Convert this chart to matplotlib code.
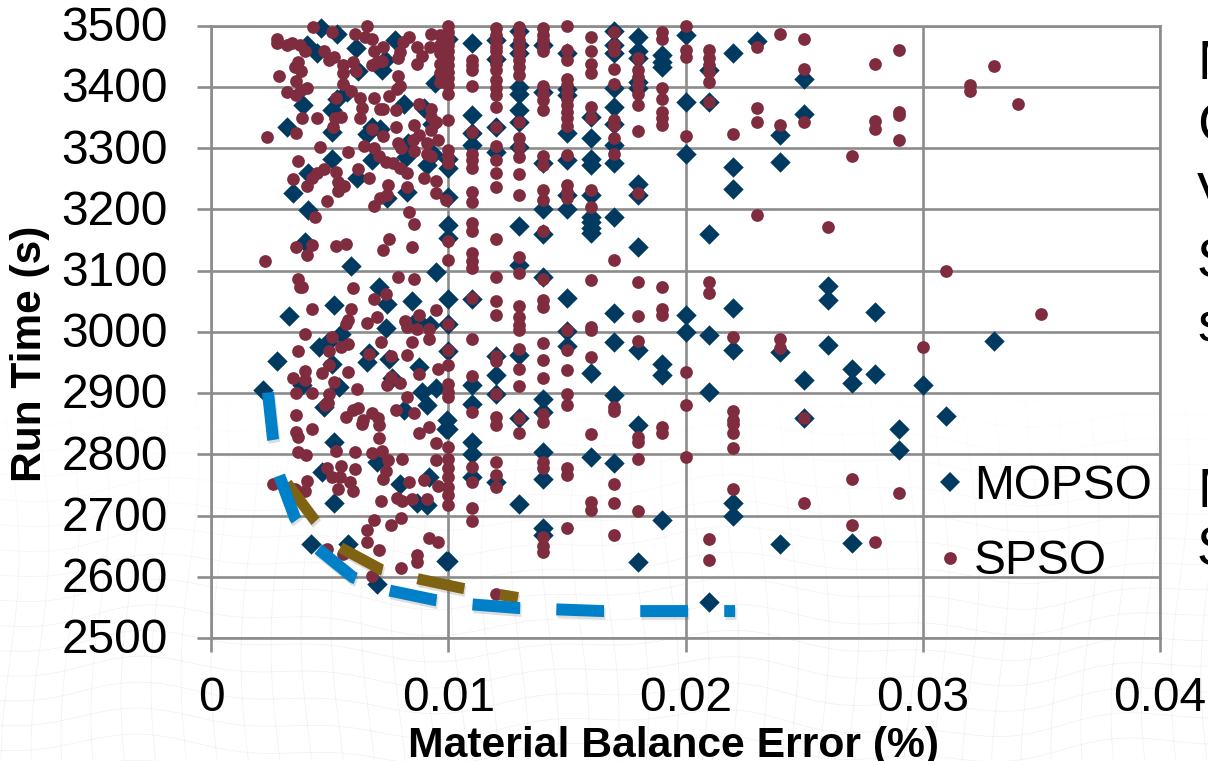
import matplotlib
matplotlib.use("Agg")
import numpy as np
import matplotlib.pyplot as plt
import matplotlib.patheffects as pe
from matplotlib.collections import LineCollection
from matplotlib.legend_handler import HandlerLine2D
from matplotlib.lines import Line2D
from matplotlib.transforms import ScaledTranslation

plt.rcParams['font.family'] = ['Liberation Sans', 'DejaVu Sans']

x_ticks = [0, 0.01, 0.02, 0.03, 0.04]
x_tick_labels = ['0', '0.01', '0.02', '0.03', '0.04']
y_ticks = [2500, 2600, 2700, 2800, 2900, 3000, 3100, 3200, 3300, 3400, 3500]

# points left of 0.01 do not sit on a regular x spacing (x in units of 0.001)
mopso_free_x = [4.62, 5.29, 6.11, 7.75, 4.06, 4.45, 7.19, 7.33, 6.21, 9.44, 3.89, 5.29, 5.08, 5.72, 8.13, 8.97,
                3.19, 5.08, 6.77, 6.56, 7.12, 5.08, 6.77, 8.24, 8.3, 9.09, 9.3, 9.37, 4.1, 6.17, 7.4, 8.27,
                3.47, 4.1, 3.96, 5.9, 9.48, 7.08, 7.4, 8.48, 5.18, 3.29, 8.67, 9.23, 7.37, 5.5, 4.56, 4.94,
                6.67, 6.59, 7.5, 8.78, 2.79, 5.08, 7.65, 3.82, 5.41, 8.88, 9.5, 9.09, 2.18, 4.76, 8.13, 9.93,
                5.18, 6.98, 4.66, 7.96, 9.2, 8.67, 9.12, 5.18, 4.2, 5.79, 7.01, 9.9, 9.9]
mopso_free_y = [3497, 3486, 3464, 3477, 3469, 3456, 3428, 3444, 3426, 3406, 3370, 3381, 3362, 3392, 3372, 3366,
                3334, 3327, 3335, 3323, 3332, 3283, 3280, 3286, 3308, 3273, 3340, 3291, 3259, 3251, 3218, 3228,
                3226, 3199, 3147, 3107, 3098, 3074, 3046, 3050, 3044, 3026, 3019, 3011, 3007, 2996, 2975, 2984,
                2965, 2950, 2956, 2942, 2953, 2947, 2924, 2914, 2910, 2902, 2908, 2881, 2905, 2878, 2872, 2856,
                2820, 2788, 2771, 2751, 2763, 2720, 2717, 2721, 2654, 2654, 2589, 2841, 2625]

spso_free_x = [4.28, 5.08, 2.77, 2.77, 3.2, 3.4, 3.75, 3.97, 4.76, 4.97, 5.2, 6.07, 6.56, 6.5, 6.77, 7.26, 6.87,
               8.36, 8.1, 7.96, 7.87, 8.67, 8.88, 8.67, 9.27, 9.23, 9.65, 9.65, 9.65, 9.65, 9.65, 9.65,
               3.68, 3.54, 3.79, 2.87, 3.57, 4.06, 3.79, 3.19, 3.58, 5.58, 5.58, 6.0, 6.1, 6.77, 6.98, 7.2,
               7.87, 7.96, 7.82, 5.58, 5.9, 5.27, 6.28, 6.87, 7.49, 6.38, 7.26, 7.12, 7.78, 8.78, 9.26, 9.26,
               9.47, 9.26, 9.58, 6.28, 5.48, 5.22, 5.15, 3.82, 4.48, 3.57, 2.37, 6.77, 7.78, 8.57, 7.26, 8.78,
               8.53, 7.87, 8.0, 8.57, 9.09, 9.09, 9.27, 4.58, 5.77, 6.46, 6.87, 7.08, 7.37, 7.68, 7.96, 8.27,
               3.68, 4.78, 4.45, 4.24, 4.03, 3.47, 5.27, 6.18, 6.66, 5.37, 5.6, 5.37, 4.87, 7.47, 7.4, 7.12,
               6.87, 8.27, 8.97, 9.48, 9.47, 9.9, 8.36, 4.38,
               8.57, 7.49, 7.26, 8.47, 3.57, 4.27, 4.06, 5.27, 5.69, 2.28, 3.68, 3.75, 3.85, 5.97, 7.87, 8.57,
               7.37, 6.87, 4.27, 5.88, 9.48, 5.76, 5.67, 6.98, 6.59, 8.17, 8.78, 8.27, 8.67, 9.2, 9.19, 3.97,
               5.08, 5.78, 5.46, 4.97, 3.68, 7.16, 8.48, 8.27, 6.67, 7.57, 9.58, 8.78, 5.79, 4.97, 3.97, 3.97,
               3.47, 4.69, 5.18, 7.57, 7.4, 7.96, 4.27, 3.57, 6.17, 8.27, 4.97, 4.8, 4.95, 3.57, 7.78, 8.57,
               6.0, 6.2, 6.77, 5.67, 6.42, 7.05,
               3.57, 3.68, 4.27, 6.38, 7.08, 7.08, 8.76, 9.19, 9.48, 3.68, 4.0, 5.27, 6.07, 6.77, 7.2, 7.47,
               8.06, 9.48, 4.87, 5.46, 5.08, 5.44, 6.08, 7.36, 7.26, 5.86, 5.97, 5.37, 4.06, 3.96, 3.54, 2.63,
               8.36, 8.99, 9.58, 7.16, 7.85, 8.06, 8.48, 9.09, 6.87, 8.0, 7.57, 6.59, 6.59, 7.08, 9.19, 9.58,
               4.87, 5.55, 6.77, 8.69, 8.69, 8.0]
spso_free_y = [3498, 3490, 3479, 3471, 3468, 3472, 3469, 3459, 3459, 3444, 3449, 3487, 3500, 3482, 3479, 3466, 3459,
               3481, 3473, 3457, 3447, 3465, 3450, 3438, 3487, 3465, 3485, 3468, 3455, 3438, 3422, 3408,
               3441, 3433, 3426, 3418, 3410, 3399, 3395, 3392, 3387, 3436, 3422, 3440, 3426, 3436, 3440, 3443,
               3418, 3401, 3396, 3405, 3393, 3382, 3382, 3382, 3385, 3366, 3364, 3364, 3362, 3372, 3364, 3351,
               3343, 3330, 3313, 3350, 3351, 3349, 3335, 3350, 3349, 3324, 3318, 3331, 3334, 3338, 3320, 3321,
               3313, 3308, 3300, 3295, 3308, 3291, 3288, 3302, 3293, 3303, 3301, 3288, 3278, 3275, 3267, 3259,
               3279, 3266, 3259, 3251, 3239, 3249, 3261, 3266, 3252, 3245, 3239, 3230, 3214, 3240, 3223, 3218,
               3205, 3237, 3252, 3247, 3226, 3216, 3196, 3188,
               3176, 3151, 3133, 3138, 3139, 3142, 3125, 3140, 3143, 3115, 3086, 3073, 3073, 3071, 3090, 3087,
               3062, 3054, 3037, 3037, 3035, 3020, 3013, 3024, 3015, 3018, 3027, 3008, 3005, 3005, 2989, 2996,
               2992, 2980, 2976, 2969, 2968, 2983, 2983, 2963, 2964, 2961, 2939, 2931, 2935, 2946, 2936, 2921,
               2925, 2932, 2918, 2926, 2913, 2916, 2900, 2900, 2906, 2893, 2898, 2880, 2884, 2864, 2873, 2867,
               2873, 2875, 2867, 2861, 2856, 2859,
               2837, 2829, 2841, 2849, 2848, 2826, 2835, 2845, 2818, 2804, 2799, 2806, 2804, 2802, 2806, 2790,
               2792, 2790, 2777, 2781, 2763, 2763, 2776, 2773, 2760, 2755, 2740, 2743, 2756, 2740, 2744, 2751,
               2755, 2758, 2748, 2724, 2729, 2723, 2727, 2727, 2692, 2696, 2685, 2676, 2657, 2643, 2663, 2656,
               2646, 2637, 2602, 2635, 2624, 2615]

# from 0.01 upward the errors fall on steps of 0.001, so these go column by column
mopso_col_x = [10, 11, 12, 13, 14, 15, 16, 17, 18, 19, 20, 21, 22, 23, 24, 25, 26, 27, 28, 29, 30, 31, 33]
mopso_col_y = [
    [3479, 3283, 3267, 3221, 3175, 3153, 3053, 3013, 2969, 2841, 2625],
    [3471, 3354, 3324, 3305, 3053, 2913, 2882, 2820, 2801, 2763],
    [3477, 3446, 3335, 3294, 2961, 2929, 2899, 2754],
    [3492, 3468, 3455, 3400, 3389, 3362, 3343, 3302, 3173, 3109, 2962, 2859, 2719],
    [3468, 3392, 3275, 3201, 3160, 3090, 2891, 2869, 2804, 2760, 2679, 2668],
    [3456, 3396, 3387, 3324, 3280, 3223, 3201, 3056, 3002, 2977],
    [3351, 3317, 3283, 3272, 3223, 3188, 3180, 3169, 3161, 2933, 2796],
    [3492, 3468, 3455, 3399, 3368, 3340, 3305, 3275, 3188, 3030, 2984, 2897, 2786],
    [3482, 3458, 3447, 3408, 3398, 3242, 3223, 3139, 2971, 2848, 2624],
    [3452, 3441, 3433, 2947, 2929, 2692],
    [3485, 3376, 3291, 3027, 2999],
    [3428, 3376, 3160, 2995, 2902, 2559],
    [3455, 3270, 3233, 3039, 2970, 2720, 2700],
    [3475],
    [3321, 3278, 2967, 2654],
    [3413, 3355, 2921, 2860],
    [3075, 3052, 2978],
    [2939, 2916, 2655],
    [3033, 2931],
    [2841, 2807],
    [2914],
    [2862],
    [2985],
]

spso_col_x = [10, 11, 12, 13, 14, 15, 16, 17, 18, 19, 20, 21, 22, 23, 24, 25, 26, 27, 28, 29, 30, 31, 32, 33, 34, 35]
spso_col_y = [
    [3500, 3490, 3479, 3468, 3458, 3447, 3436, 3425, 3414, 3403, 3389, 3346, 3297, 3286, 3275, 3149, 3117, 3013,
     2970, 2946, 2915, 2902, 2894, 2812, 2793, 2777, 2763, 2747, 2733, 2718],
    [3444, 3436, 3428, 3401, 3327, 3291, 3280, 3267, 3229, 3212, 3178, 3165, 3128, 3115, 3104, 3056, 2988, 2928,
     2869, 2779, 2755, 2713, 2691],
    [3497, 3485, 3477, 3466, 3458, 3447, 3438, 3427, 3411, 3398, 3387, 3368, 3335, 3303, 3280, 3260, 3236, 3152,
     3090, 3050, 3027, 2961, 2953, 2899, 2861, 2848, 2788, 2766, 2747, 2572],
    [3498, 3487, 3477, 3466, 3455, 3444, 3433, 3419, 3343, 3316, 3302, 3286, 3258, 3223, 3123, 3096, 3042, 3025,
     3011, 3003, 2972, 2939, 2912, 2859, 2834],
    [3496, 3485, 3477, 3466, 3458, 3401, 3389, 3379, 3362, 3288, 3272, 3231, 3215, 3164, 3087, 3052, 3041, 2981,
     2954, 2925, 2866, 2853, 2788, 2777, 2665, 2651, 2640],
    [3499, 3460, 3444, 3413, 3403, 3392, 3381, 3370, 3359, 3349, 3336, 3289, 3240, 3229, 3218, 3003, 2971, 2938,
     2899, 2880, 2777, 2766, 2680],
    [3482, 3459, 3438, 3422, 3367, 3350, 3231, 3204, 3085, 3008, 3003, 2959, 2833, 2722, 2709],
    [3490, 3468, 3458, 3430, 3405, 3346, 3338, 3316, 3291, 3118, 2878, 2870, 2751, 2721, 2669],
    [3447, 3428, 3417, 3403, 3389, 3370, 3328, 3226, 3082, 3026, 2985, 2828, 2820, 2793, 2708],
    [3490, 3479, 3398, 3381, 3359, 3349, 3338, 3074, 3038, 3027, 2845, 2834],
    [3500, 3461, 3449, 3320, 2935, 2880, 2795],
    [3461, 3447, 3436, 3425, 3408, 3376, 3081, 3063, 2662, 2627],
    [3323, 2992, 2871, 2856, 2849, 2835, 2811, 2743],
    [3465, 3365, 3342, 3191],
    [3486, 3338, 2989, 2973],
    [3479, 3430, 3342, 2860, 2721],
    [3172],
    [3288, 2759, 2685],
    [3437, 3345, 3331, 2657],
    [3460, 3359, 3354, 3314, 2737],
    [2976],
    [3100],
    [3403, 3393],
    [3434],
    [3372],
    [3029],
]

# the hand drawn fronts on top of the scatter
blue_front_x = [0.00240, 0.00261, 0.00287, 0.00354, 0.00447, 0.00599, 0.00746, 0.00944, 0.01096, 0.01294, 0.01653, 0.02209]
blue_front_y = [2901, 2826, 2766, 2696, 2647, 2599, 2578, 2562, 2555, 2549, 2544, 2544]
brown_front_x = [0.00320, 0.00438, 0.00544, 0.00721, 0.00868, 0.01062, 0.01294]
brown_front_y = [2753, 2692, 2648, 2611, 2597, 2581, 2566]

# side text that is cut off by the edge of the slide
side_letters = ['M', 'C', 'V', 'S', 's', 'M', 'S']
side_letter_y = [65, 128, 197, 263, 327, 493, 551]

mopso_x = [v / 1000 for v in mopso_free_x]
mopso_y = list(mopso_free_y)
for cx, ys in zip(mopso_col_x, mopso_col_y):
    mopso_x += [cx / 1000] * len(ys)
    mopso_y += ys

spso_x = [v / 1000 for v in spso_free_x]
spso_y = list(spso_free_y)
for cx, ys in zip(spso_col_x, spso_col_y):
    spso_x += [cx / 1000] * len(ys)
    spso_y += ys

W, H = 1208, 761
fig = plt.figure(figsize=(W / 100, H / 100), dpi=100, facecolor='white')

# faint warped mesh of the slide background, only decoration
bg = fig.add_axes([0, 0, 1, 1], zorder=0)
bg.set_xlim(0, W)
bg.set_ylim(H, 0)
bg.axis('off')


def mesh_point(u, v):
    px = u + 9 * np.sin(v / 70 + u / 160)
    py = v + 11 * np.sin(u / 85 + v / 240) + 5 * np.sin(u / 31)
    return px, py


segs, seg_cols = [], []
for v0 in np.arange(360, 800, 26):
    u = np.arange(-20, W + 20, 12.0)
    px, py = mesh_point(u, np.full_like(u, v0))
    pts = np.column_stack([px, py])
    segs += [pts[i:i + 2] for i in range(len(pts) - 1)]
for u0 in np.arange(-20, W + 20, 30):
    v = np.arange(340, 800, 12.0)
    px, py = mesh_point(np.full_like(v, u0), v)
    pts = np.column_stack([px, py])
    segs += [pts[i:i + 2] for i in range(len(pts) - 1)]
for s in segs:
    seg_cols.append((0.55, 0.55, 0.55, float(np.clip((s[0][1] - 360) / 2400, 0, 0.11))))
bg.add_collection(LineCollection(segs, colors=seg_cols, linewidths=0.6))

ax = fig.add_axes([211 / W, 1 - 638 / H, (1160 - 211) / W, (638 - 25.7) / H], zorder=1)
ax.patch.set_alpha(0)
ax.set_xlim(0, 0.04)
ax.set_ylim(2500, 3500)
ax.set_xticks(x_ticks)
ax.set_xticklabels(x_tick_labels)
ax.set_yticks(y_ticks)
ax.tick_params(axis='x', length=10, width=1.9, color='#8c8c8c', labelsize=34.5, pad=17.5)
ax.tick_params(axis='y', length=10, width=1.9, color='#8c8c8c', labelsize=34.5, pad=21)
for t in ax.get_yticklabels():
    t.set_transform(t.get_transform() + ScaledTranslation(0, 1.5 / 72, fig.dpi_scale_trans))
ax.grid(True, color='#8c8c8c', linewidth=1.9, zorder=1)
ax.set_axisbelow(True)
for s in ax.spines.values():
    s.set_color('#8c8c8c')
    s.set_linewidth(1.9)

ax.scatter(mopso_x, mopso_y, marker='D', s=108, color='#003a60', linewidths=0, zorder=3, clip_on=False)
ax.scatter(spso_x, spso_y, marker='o', s=84, color='#7f2c3f', linewidths=0, zorder=4, clip_on=False)

shadow = [pe.SimpleLineShadow(offset=(1, -2), alpha=0.2, shadow_color='#555555'), pe.Normal()]
ax.plot(brown_front_x, brown_front_y, color='#7f6212', linewidth=8.0, linestyle=(0, (4.3, 3.25)),
        dash_capstyle='butt', path_effects=shadow, zorder=5)
ax.plot(blue_front_x, blue_front_y, color='#0080c8', linewidth=8.6, linestyle=(0, (4.0, 3.03)),
        dash_capstyle='butt', path_effects=shadow, zorder=6)

fig.text(673 / W, 1 - 757.5 / H, 'Material Balance Error (%)', fontsize=30.7, fontweight='bold',
         ha='center', va='baseline')
fig.text(50 / W, 1 - 354 / H, 'Run Time (s)', fontsize=30.5, fontweight='bold', rotation=90,
         ha='right', va='center', rotation_mode='default')

handles = [Line2D([], [], marker='D', linestyle='none', color='#003a60', markersize=10.4, markeredgewidth=0),
           Line2D([], [], marker='o', linestyle='none', color='#7f2c3f', markersize=9.2, markeredgewidth=0)]
fig.legend(handles, ['MOPSO', 'SPSO'], loc='center left', bbox_to_anchor=(926 / W, 1 - 524 / H),
           frameon=False, fontsize=34.5, handletextpad=0.0, labelspacing=0.64, handlelength=1.0,
           borderpad=0, borderaxespad=0, handler_map={Line2D: HandlerLine2D(ypad=0.07)})

for letter, y in zip(side_letters, side_letter_y):
    fig.text(1197 / W, 1 - y / H, letter, fontsize=40, va='center', ha='left')

fig.savefig('out.png', dpi=100)
